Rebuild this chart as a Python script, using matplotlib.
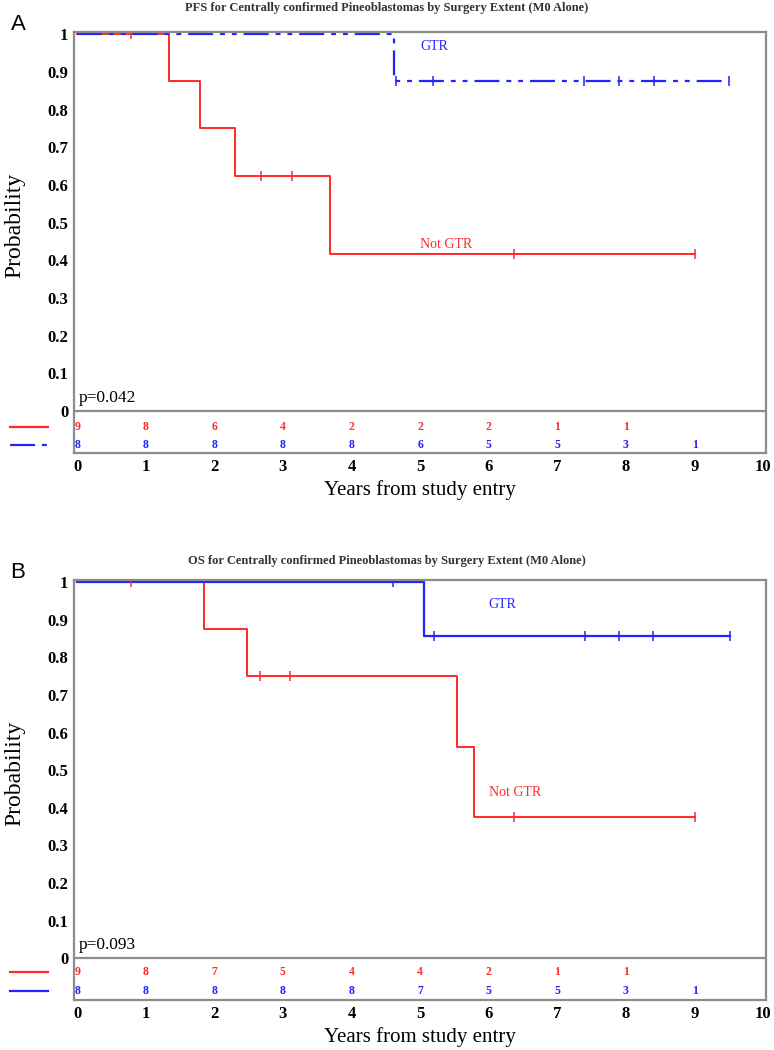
import numpy as np
import matplotlib
matplotlib.use("Agg")
import matplotlib.pyplot as plt

plt.rcParams['font.family'] = 'Liberation Serif'
plt.rcParams['lines.scale_dashes'] = False

RED = '#ff2a2a'
BLUE = '#2323ff'
GRAY = '#8c8c8c'

years = np.arange(0, 11)

# panel A: PFS
pfs_red_t = [0, 1.34, 1.79, 2.30, 3.69, 9.0]
pfs_red_s = [1, 0.875, 0.75, 0.625, 0.417, 0.417]
pfs_red_cens = [0.79, 2.68, 3.13, 6.37, 9.0]
pfs_blue_t = [0, 4.62, 9.5]
pfs_blue_s = [1, 0.875, 0.875]
pfs_blue_cens = [4.65, 5.19, 7.39, 7.9, 8.41, 9.5]
pfs_red_risk = [9, 8, 6, 4, 2, 2, 2, 1, 1]
pfs_blue_risk = [8, 8, 8, 8, 8, 6, 5, 5, 3, 1]

# panel B: OS
os_red_t = [0, 1.85, 2.48, 5.53, 5.79, 9.0]
os_red_s = [1, 0.875, 0.75, 0.5625, 0.375, 0.375]
os_red_cens = [0.79, 2.67, 3.11, 6.37, 9.0]
os_blue_t = [0, 5.05, 9.52]
os_blue_s = [1, 0.857, 0.857]
os_blue_cens = [4.6, 5.2, 7.4, 7.9, 8.4, 9.52]
os_red_risk = [9, 8, 7, 5, 4, 4, 2, 1, 1]
os_blue_risk = [8, 8, 8, 8, 8, 7, 5, 5, 3, 1]

dashdot = (0, (18, 5, 3.5, 5, 3.5, 5))


def surv_at(t, s, x):
    idx = np.searchsorted(t, x, side='right') - 1
    return np.array(s)[idx]


def km_panel(ax, pval, red_t, red_s, red_c, blue_t, blue_s, blue_c,
             red_risk, blue_risk, blue_ls, gtr_xy, notgtr_xy, risk_y):
    ax.step(red_t, red_s, where='post', color=RED, lw=1.4)
    ax.step(blue_t, blue_s, where='post', color=BLUE, lw=1.6, linestyle=blue_ls)
    ax.plot(red_c, surv_at(red_t, red_s, red_c), ls='none', marker='|', ms=7, mew=1.1, color=RED)
    ax.plot(blue_c, surv_at(blue_t, blue_s, blue_c), ls='none', marker='|', ms=7, mew=1.1, color=BLUE)

    ax.axhline(0, color=GRAY, lw=1.6)
    for i in range(len(red_risk)):
        ax.text(years[i], risk_y[0], str(red_risk[i]), color=RED, fontsize=8.5,
                fontweight='bold', ha='center', va='center')
    for i in range(len(blue_risk)):
        ax.text(years[i], risk_y[1], str(blue_risk[i]), color=BLUE, fontsize=8.5,
                fontweight='bold', ha='center', va='center')

    # line samples left of the risk table
    ax.plot([-0.98, -0.42], [risk_y[0], risk_y[0]], color=RED, lw=1.6, clip_on=False)
    ax.plot([-0.98, -0.42], [risk_y[1], risk_y[1]], color=BLUE, lw=1.6,
            linestyle=blue_ls, clip_on=False)

    ax.text(gtr_xy[0], gtr_xy[1], 'GTR', color=BLUE, fontsize=10, va='center')
    ax.text(notgtr_xy[0], notgtr_xy[1], 'Not GTR', color=RED, fontsize=10, va='center')
    ax.text(0.02, 0.035, pval, fontsize=12.5, va='center')

    ax.set_xlim(-0.045, 10.04)
    ax.set_ylim(-0.111, 1.006)
    ax.set_xticks(years)
    ax.set_xticklabels([str(v) for v in years], fontsize=12, fontweight='bold')
    yt = np.round(np.arange(0, 11) / 10, 1)
    ax.set_yticks(yt)
    ax.set_yticklabels(['0'] + [str(v) for v in yt[1:-1]] + ['1'], fontsize=12, fontweight='bold')
    ax.tick_params(length=0, pad=4)
    for sp in ax.spines.values():
        sp.set_color(GRAY)
        sp.set_linewidth(1.6)
    ax.set_xlabel('Years from study entry', fontsize=15, labelpad=4)
    ax.set_ylabel('Probability', fontsize=17)
    ax.yaxis.set_label_coords(-0.07, 0.54)


fig = plt.figure(figsize=(7.74, 10.5), dpi=100)
axA = fig.add_axes([0.0956, 0.5686, 0.894, 0.401])
axB = fig.add_axes([0.0956, 0.0476, 0.894, 0.4])

km_panel(axA, 'p=0.042', pfs_red_t, pfs_red_s, pfs_red_cens,
         pfs_blue_t, pfs_blue_s, pfs_blue_cens, pfs_red_risk, pfs_blue_risk,
         dashdot, (5.0, 0.968), (5.0, 0.443), (-0.042, -0.09))
km_panel(axB, 'p=0.093', os_red_t, os_red_s, os_red_cens,
         os_blue_t, os_blue_s, os_blue_cens, os_red_risk, os_blue_risk,
         '-', (6.0, 0.94), (6.0, 0.44), (-0.037, -0.088))

fig.text(0.5, 1 - 8 / 1050, 'PFS for Centrally confirmed Pineoblastomas by Surgery Extent (M0 Alone)',
         ha='center', va='center', fontsize=9, fontweight='bold', color='#333333')
fig.text(0.5, 1 - 561 / 1050, 'OS for Centrally confirmed Pineoblastomas by Surgery Extent (M0 Alone)',
         ha='center', va='center', fontsize=9, fontweight='bold', color='#333333')
fig.text(18 / 774, 1 - 25 / 1050, 'A', family='Liberation Sans', fontsize=16, ha='center', va='center')
fig.text(18 / 774, 1 - 572 / 1050, 'B', family='Liberation Sans', fontsize=16, ha='center', va='center')

fig.savefig('out.png', dpi=100)
